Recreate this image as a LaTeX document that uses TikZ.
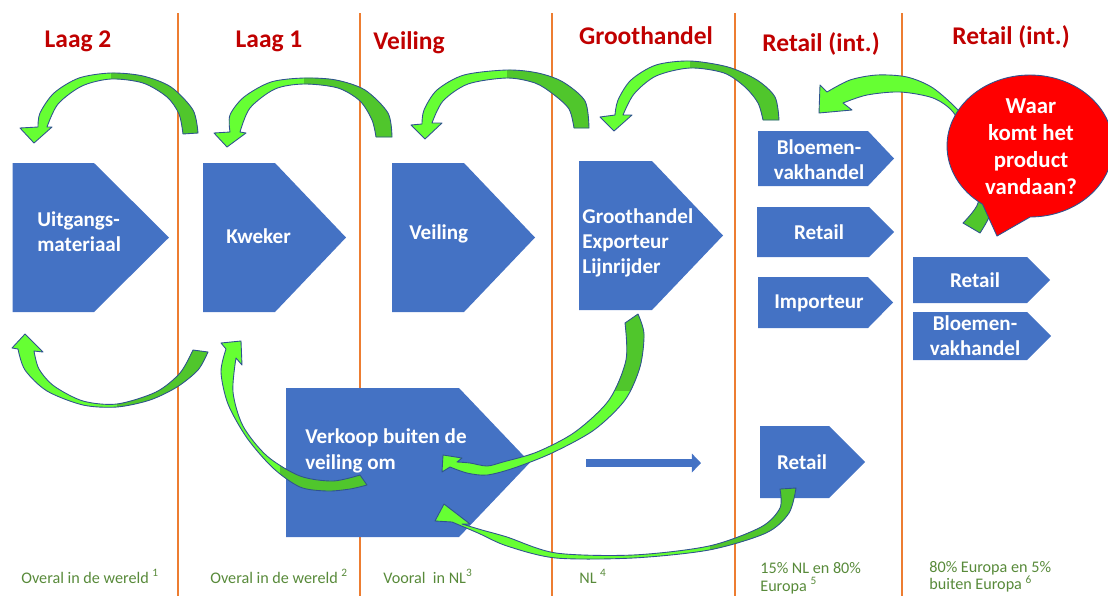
\documentclass[tikz,border=0pt]{standalone}
\usepackage{fontspec}
\setmainfont{Carlito}
\usetikzlibrary{shapes.callouts,arrows.meta}

\definecolor{headred}{RGB}{192,0,0}
\definecolor{lineorange}{RGB}{237,125,49}
\definecolor{boxblue}{RGB}{68,114,196}
\definecolor{greenlight}{RGB}{102,255,51}
\definecolor{greendark}{RGB}{80,198,44}
\definecolor{edgeblue}{RGB}{47,82,143}
\definecolor{bubblered}{RGB}{255,0,0}
\definecolor{footgreen}{RGB}{88,138,58}

\tikzstyle{laneline}=[draw=lineorange,line width=1.1pt]
\tikzstyle{stagebox}=[fill=boxblue]
\tikzstyle{stagetext}=[text=white,font=\bfseries\fontsize{12}{14.4}\selectfont,inner sep=0pt,align=left]
\tikzstyle{header}=[text=headred,font=\bfseries\fontsize{14.5}{17}\selectfont,anchor=base,inner sep=0pt]
\tikzstyle{foot}=[text=footgreen,font=\fontsize{9.2}{11.4}\selectfont,inner sep=0pt,align=left]
\tikzstyle{greenfront}=[fill=greenlight]
\tikzstyle{greenback}=[fill=greendark]
\tikzstyle{greenedge}=[draw=edgeblue,line width=0.5pt,line join=round]

% curved block arrow: outline, region of the dark back side
\newcommand{\greenbend}[2]{%
  \fill[greenfront] #1;
  \begin{scope}\clip #2; \fill[greenback] #1;\end{scope}
  \draw[greenedge] #1;}

\begin{document}
\begin{tikzpicture}[x=0.02cm,y=-0.02cm]
\useasboundingbox (0,0) rectangle (1108,596);

%% Lanes and their titles
\foreach \x in {178,360,552,735,902}
  \draw[laneline] (\x,13) -- (\x,596);
\foreach \x/\y/\t [count=\i] in {78/47/Laag 2, 269/47/Laag 1, 409/49/Veiling,
    646/44/Groothandel, 821/51/Retail (int.), 1011/44/Retail (int.)}
  \node[header] (head\i) at (\x,\y) {\t};

%% Chain stages (left, top, width, height, point)
\foreach \x/\y/\w/\h/\p in {12.5/163/81.5/149/75, 203/163/72/149/71, 392/163/72/149/71,
    579/161/73/149/71, 758/131/110/55/26, 757/207/112/50/25, 758/277/110/51/25,
    913/257/114/46/23, 913/312/114/48/24, 286/388/173/149/71, 760/426/69/72/36}
  \fill[stagebox] (\x,\y) -- ++(\w,0) -- ++(\p,\h/2) -- ++(-\p,\h/2) -- ++(-\w,0) -- cycle;

%% Flow straight on
\coordinate (flowstart) at (586,463);
\coordinate (flowend) at (701,463);
\draw[boxblue,line width=4.5pt,-{Triangle[length=5.2pt,width=10.5pt]}] (flowstart) -- (flowend);

%% Tracing back, upper row
\greenbend{plot[smooth] coordinates {(198,133) (193,110) (171,87) (143,76) (111,73) (79,78) (54,93) (40,113) (38,127)}
  -- (20,128) -- (34,143) -- (52,127)
  -- plot[smooth] coordinates {(47,127) (58,104) (82,86) (111,79) (143,83) (167,97) (179,114) (183,134)} -- cycle}
  {(111,0) rectangle (210,150)}
\greenbend{plot[smooth] coordinates {(392,137) (388,113) (365,90) (336,80) (304,78) (271,82) (244,97) (230,115) (230,132)}
  -- (214,133) -- (227,147) -- (246,133)
  -- plot[smooth] coordinates {(240,132) (250,108) (275,89) (304,84) (338,88) (360,101) (372,120) (376,137)} -- cycle}
  {(304,0) rectangle (400,150)}
\greenbend{plot[smooth] coordinates {(589,128) (585,101) (563,82) (538,73) (507,70) (464,75) (437,90) (424,110) (422,124)}
  -- (411,125) -- (425,139) -- (442,123)
  -- plot[smooth] coordinates {(432,123) (443,101) (468,84) (507,78) (535,83) (553,94) (569,109) (574,128)} -- cycle}
  {(507,0) rectangle (600,140)}
\greenbend{plot[smooth] coordinates {(779,120) (775,97) (757,80) (728,67) (690,61) (656,65) (631,80) (618,100) (615,115)}
  -- (600,117) -- (614,131) -- (632,115)
  -- plot[smooth] coordinates {(623,115) (634,94) (656,76) (690,68) (724,73) (745,87) (758,103) (763,120)} -- cycle}
  {(690,0) rectangle (790,130)}
\greenbend{plot[smooth] coordinates {(980,233) (992,210) (995,175) (982,140) (960,112) (933,88) (907,77) (877,75) (850,80) (827,92)}
  -- (820,85) -- (819,113) -- (852,110)
  -- plot[smooth] coordinates {(843,103) (867,95) (900,92) (933,98) (953,112) (968,140) (975,175) (978,203) (963,223)} -- cycle}
  {(940,190) rectangle (1000,240)}

%% Tracing back, lower row
\greenbend{plot[smooth] coordinates {(208,352) (198,370) (177,387) (150,400) (117,407) (83,405) (47,391) (25,370) (18,349)}
  -- (12,348) -- (25,334) -- (43,352)
  -- plot[smooth] coordinates {(34,351) (39,369) (54,386) (83,401) (117,404) (156,392) (180,373) (193,350)} -- cycle}
  {(117,330) rectangle (215,420)}
\greenbend{plot[smooth] coordinates {(367,485) (350,489) (327,491) (300,487) (273,468) (247,438) (228,404) (221,372) (226,349)}
  -- (221,343) -- (241,341) -- (242,365)
  -- plot[smooth] coordinates {(236,358) (233,392) (243,426) (267,456) (300,476) (333,481) (360,475)} -- cycle}
  {(280,450) rectangle (375,500)}
\greenbend{plot[smooth] coordinates {(638,314) (644,334) (640,367) (625,400) (594,430) (552,453) (514,468) (487,475) (467,473) (450,467)}
  -- (442,472) -- (443,455) -- (462,458)
  -- plot[smooth] coordinates {(457,462) (470,463) (487,466) (503,462) (537,452) (575,432) (609,400) (626,360) (625,323)} -- cycle}
  {(600,300) rectangle (660,390)}
\greenbend{plot[smooth] coordinates {(796,488) (789,513) (766,533) (709,550) (633,558) (556,558) (507,546) (478,533) (452,522)}
  -- (435,521) -- (444,504) -- (470,524)
  -- plot[smooth] coordinates {(462,524) (482,530) (507,537) (556,553) (633,555) (709,546) (761,527) (780,508) (780,489)} -- cycle}
  {(710,480) rectangle (800,560)}

%% Question bubble
\node[ellipse callout,fill=bubblered,draw=edgeblue,line width=0.5pt,inner sep=0pt,
      minimum width=3.32cm,minimum height=2.84cm,
      callout absolute pointer={(997,236)},callout pointer arc=35] (bubble) at (1030,146) {};
\node[text=white,font=\bfseries\fontsize{13}{15.4}\selectfont,align=center,inner sep=0pt]
      (question) at (1031,147) {Waar\\komt het\\product\\vandaan?};

%% Stage texts
\node[stagetext,anchor=west] (uitgang) at (37,232) {Uitgangs-\\materiaal};
\node[stagetext,anchor=west] (kweker) at (226,236) {Kweker};
\node[stagetext,anchor=west] (veiling) at (409,234) {Veiling};
\node[stagetext,anchor=west] (groot) at (582,243) {Groothandel\\Exporteur\\Lijnrijder};
\node[stagetext,align=center] (bloem) at (819,160) {Bloemen-\\vakhandel};
\node[stagetext] (retail) at (819,232) {Retail};
\node[stagetext] (import) at (819,303) {Importeur};
\node[stagetext] (retailb) at (975,280) {Retail};
\node[stagetext,align=center] (bloemb) at (975,336) {Bloemen-\\vakhandel};
\node[stagetext,anchor=west] (verkoop) at (305,451) {Verkoop buiten de\\veiling om};
\node[stagetext] (retailc) at (802,462) {Retail};

%% Sources
\node[foot,anchor=base west] (src1) at (21,583) {Overal in de wereld \textsuperscript{1}};
\node[foot,anchor=base west] (src2) at (210,583) {Overal in de wereld \textsuperscript{2}};
\node[foot,anchor=base west] (src3) at (383,583) {Vooral\ \ in NL\textsuperscript{3}};
\node[foot,anchor=base west] (src4) at (579,583) {NL \textsuperscript{4}};
\node[foot,anchor=north west,font=\fontsize{9.2}{10.4}\selectfont] (src5) at (760,562)
      {15\% NL en 80\%\\Europa \textsuperscript{5}};
\node[foot,anchor=north west,font=\fontsize{9.2}{10}\selectfont] (src6) at (929,561)
      {80\% Europa en 5\%\\buiten Europa \textsuperscript{6}};

\end{tikzpicture}
\end{document}
